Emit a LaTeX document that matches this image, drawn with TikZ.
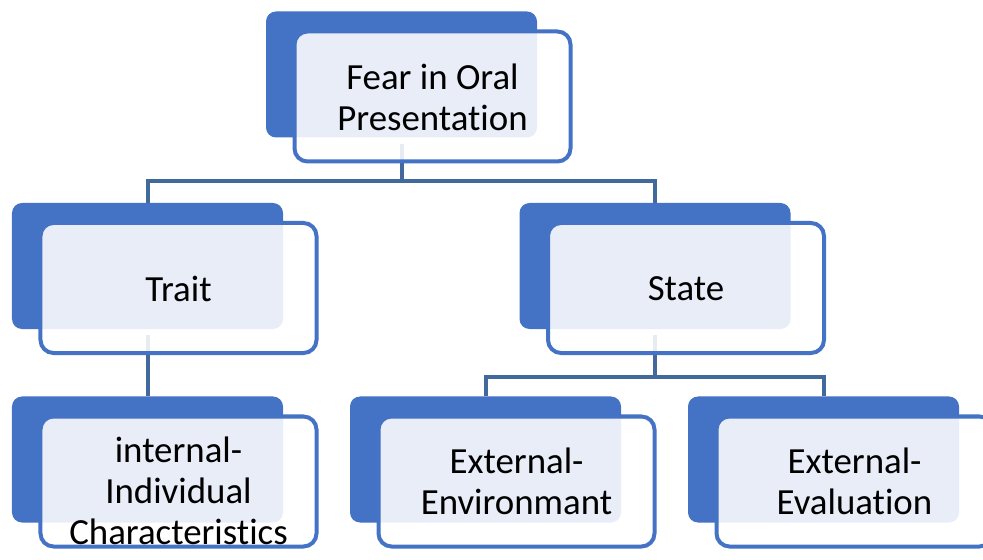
\documentclass[tikz,border=0pt]{standalone}
\usepackage{fontspec}
\setmainfont[RawFeature={-liga;-clig}]{Carlito}
\definecolor{boxblue}{RGB}{68,114,196}
\definecolor{connblue}{RGB}{65,105,155}
\tikzset{
  backbox/.style={rectangle, rounded corners=10bp, fill=boxblue, draw=none, minimum width=271bp, minimum height=126bp, inner sep=0pt},
  frontbox/.style={rectangle, rounded corners=13bp, fill=white, fill opacity=0.88, draw=boxblue, draw opacity=1, line width=4bp, minimum width=276bp, minimum height=130bp, inner sep=0pt},
  label/.style={align=center, text=black, font=\fontsize{37}{41}\selectfont, inner sep=0pt},
  conn/.style={draw=connblue, line width=4bp}
}
\begin{document}
\begin{tikzpicture}[x=1bp, y=-1bp]
\useasboundingbox (0,0) rectangle (983,560);
% coordinates of junctions
\coordinate (j1) at (401.5,181);
\coordinate (j2) at (655,377);
% back boxes
\node[backbox] (topb) at (401.5,74.5) {};
\node[backbox] (traitb) at (147.5,266) {};
\node[backbox] (stateb) at (655,266) {};
\node[backbox] (intb) at (147.5,459.5) {};
\node[backbox] (envb) at (485.5,459.5) {};
\node[backbox] (evalb) at (823.5,459.5) {};
% connectors
\draw[conn] ([yshift=-6bp]topb.south) -- (j1);
\draw[conn] (traitb.north) |- (j1) -| (stateb.north);
\draw[conn] ([yshift=-6bp]traitb.south) -- (intb.north);
\draw[conn] ([yshift=-6bp]stateb.south) -- (j2);
\draw[conn] (envb.north) |- (j2) -| (evalb.north);
% front boxes
\node[frontbox] (topf) at (432.5,96.5) {};
\node[frontbox] (traitf) at (178.5,288) {};
\node[frontbox] (statef) at (686,288) {};
\node[frontbox] (intf) at (178.5,481.5) {};
\node[frontbox] (envf) at (516.5,481.5) {};
\node[frontbox] (evalf) at (854.5,481.5) {};
% texts
\node[label] (topt) at (432.5,97) {Fear in Oral\\Presentation};
\node[label] (traitt) at (178.5,289) {Trait};
\node[label] (statet) at (686,289) {State};
\node[label] (intt) at (178.5,491) {internal-\\Individual\\Characteristics};
\node[label] (envt) at (516.5,481) {External-\\Environmant};
\node[label] (evalt) at (854.5,481) {External-\\Evaluation};
\end{tikzpicture}
\end{document}
